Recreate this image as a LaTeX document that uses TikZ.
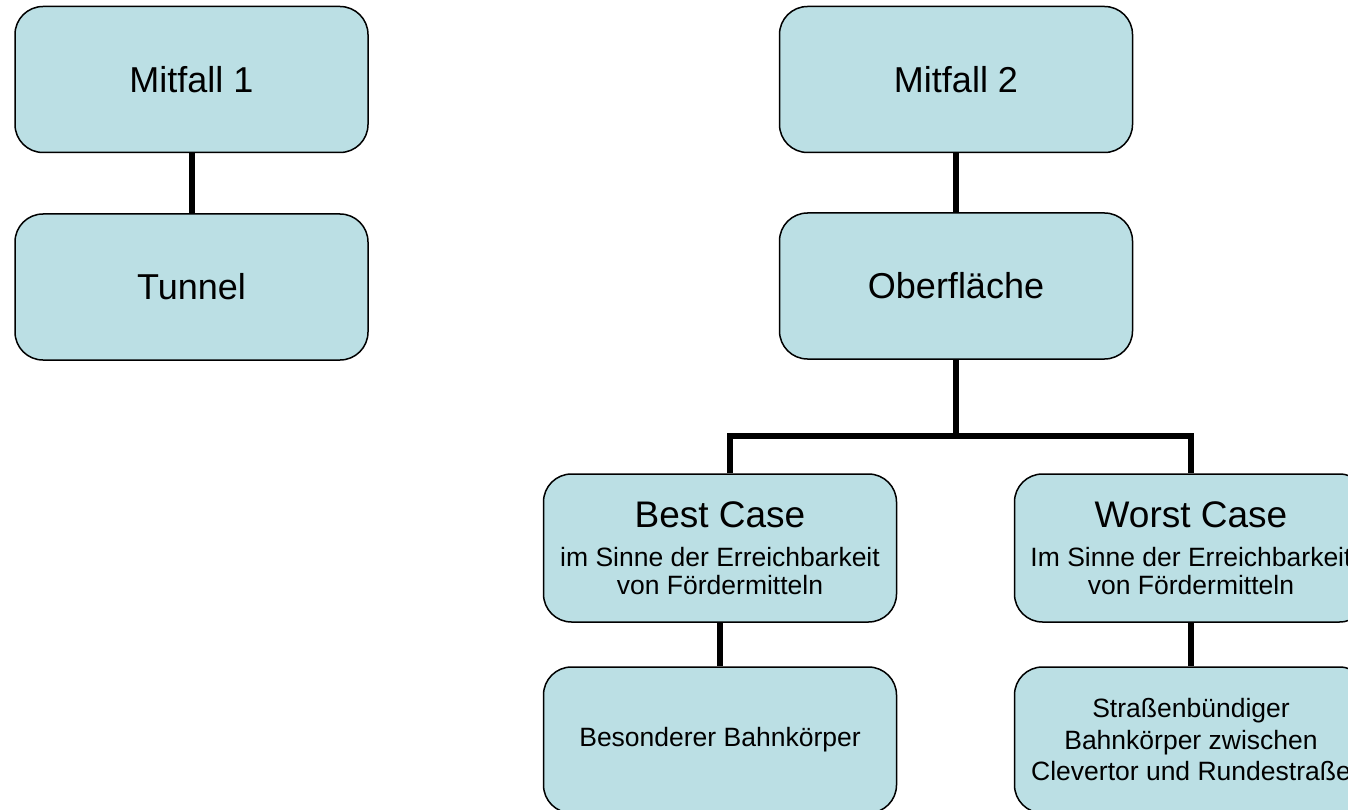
\documentclass[tikz,border=0pt]{standalone}
\usepackage{fontspec}
\setmainfont{Liberation Sans}
\usetikzlibrary{positioning}
\definecolor{boxblue}{RGB}{187,223,228}
\tikzset{
  casebox/.style={rectangle,rounded corners=28pt,draw=black,line width=1.5pt,fill=boxblue,
    minimum width=353pt,minimum height=146pt,align=center,inner sep=0pt},
  link/.style={draw=black,line width=6pt},
  bigtxt/.style={font=\fontsize{36}{40}\selectfont},
  smalltxt/.style={font=\fontsize{26.5}{31.5}\selectfont},
  subtxt/.style={font=\fontsize{26.5}{28}\selectfont}
}
\begin{document}
\begin{tikzpicture}[x=1pt,y=-1pt]
\clip (0,0) rectangle (1348,810);
\fill[white] (0,0) rectangle (1348,810);

\node[casebox,bigtxt] (mit1) at (191.5,79.5) {Mitfall 1};
\node[casebox,bigtxt] (tunnel) at (191.5,287) {Tunnel};
\draw[link] (mit1) -- (tunnel);

\node[casebox,bigtxt] (mit2) at (956,79.5) {Mitfall 2};
\node[casebox,bigtxt] (ober) at (956,286) {Oberfläche};
\draw[link] (mit2) -- (ober);

\node[casebox,subtxt,minimum height=148pt] (best) at (720,548) {{\fontsize{37}{40}\selectfont Best Case}\\[11.5pt]
  im Sinne der Erreichbarkeit\\von Fördermitteln};
\node[casebox,subtxt,minimum height=148pt] (worst) at (1191,548) {{\fontsize{37}{40}\selectfont Worst Case}\\[11.5pt]
  Im Sinne der Erreichbarkeit\\von Fördermitteln};

\node[casebox,smalltxt] (besonder) at (720,740) {Besonderer Bahnkörper};
\node[casebox,smalltxt] (strasse) at (1191,740) {Straßenbündiger\\Bahnkörper zwischen\\Clevertor und Rundestraße};

\draw[link] (ober.south) -- ++(0,76) coordinate (fork);
\draw[link] ([xshift=10pt]best.north) |- (fork) -| (worst.north);
\draw[link] (best) -- (besonder);
\draw[link] (worst) -- (strasse);

\end{tikzpicture}
\end{document}
